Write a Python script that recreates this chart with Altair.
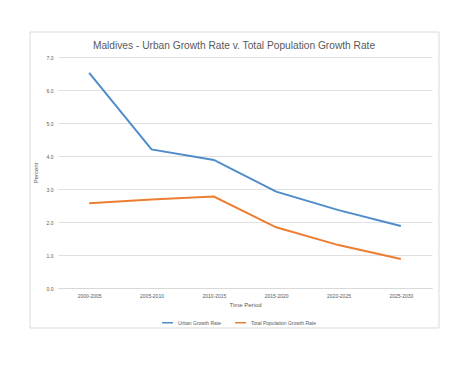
import altair as alt
import pandas as pd

periods = ["2000-2005", "2005-2010", "2010-2015", "2015-2020", "2020-2025", "2025-2030"]
urban = [6.52, 4.20, 3.88, 2.92, 2.36, 1.88]
total = [2.57, 2.68, 2.77, 1.84, 1.30, 0.88]
series_names = ["Urban Growth Rate", "Total Population Growth Rate"]
colors = ["#4F8CC9", "#ED7D31"]
title_text = "Maldives - Urban Growth Rate v. Total Population Growth Rate"

rows = []
for name, vals in zip(series_names, [urban, total]):
    for p, v in zip(periods, vals):
        rows.append({"Period": p, "Value": v, "Series": name})
df = pd.DataFrame(rows)

FONT = "Liberation Sans"
GRAY = "#595959"

one = pd.DataFrame({"t": [title_text]})

frame = alt.Chart(one).mark_rect(
    fill="transparent", stroke="#d9d9d9", strokeWidth=1
).encode(
    x=alt.value(-28), x2=alt.value(381), y=alt.value(-25), y2=alt.value(271)
)

title = alt.Chart(one).mark_text(
    fontSize=10.2, font=FONT, color=GRAY, align="center", baseline="alphabetic"
).encode(
    text="t:N", x=alt.value(176), y=alt.value(-8)
)

lines = alt.Chart(df).mark_line(strokeWidth=2).encode(
    x=alt.X("Period:N", sort=periods, scale=alt.Scale(paddingInner=0, paddingOuter=0.5),
            axis=alt.Axis(title="Time Period", labelAngle=0, labelFontSize=5, labelColor=GRAY,
                          titleFontSize=6, titleColor=GRAY, titleFontWeight="normal",
                          ticks=False, domainColor="#d9d9d9", labelPadding=5, titlePadding=3,
                          grid=False)),
    y=alt.Y("Value:Q", scale=alt.Scale(domain=[0, 7]),
            axis=alt.Axis(title="Percent", values=[0, 1, 2, 3, 4, 5, 6, 7], format=".1f",
                          labelFontSize=5, labelColor=GRAY, titleFontSize=6, titleColor=GRAY,
                          titleFontWeight="normal", ticks=False, domain=False,
                          gridColor="#e0e0e0", labelPadding=5, titlePadding=8)),
    color=alt.Color("Series:N", sort=series_names,
                    scale=alt.Scale(domain=series_names, range=colors),
                    legend=alt.Legend(title=None, orient="none", legendX=103, legendY=259,
                                      direction="horizontal", symbolType="stroke",
                                      symbolSize=120, symbolStrokeWidth=1.5,
                                      labelFontSize=5, labelColor=GRAY, columnPadding=10)),
)

chart = alt.layer(frame, lines, title).properties(
    width=374, height=231,
    autosize=alt.AutoSizeParams(type="none"),
    padding={"left": 50, "top": 49, "right": 30, "bottom": 55},
).configure(font=FONT).configure_view(stroke=None)

chart.save("out.html", embed_options={"renderer": "svg", "actions": False})
